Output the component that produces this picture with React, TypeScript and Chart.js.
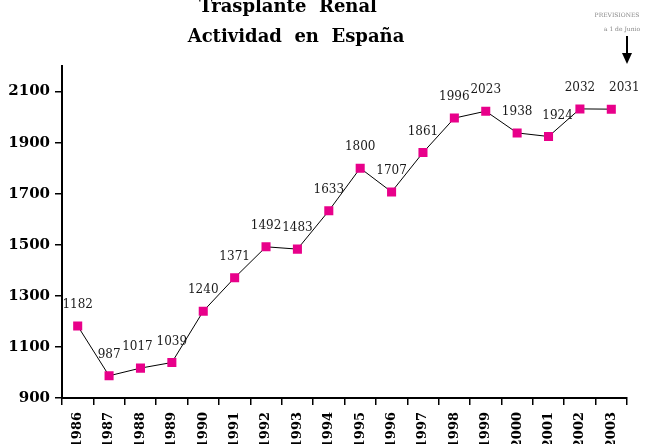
import React, { useEffect, useRef } from "react";
import { Chart, registerables } from "chart.js";

Chart.register(...registerables);

const years = ["1986","1987","1988","1989","1990","1991","1992","1993","1994","1995","1996","1997","1998","1999","2000","2001","2002","2003"];
const trasplantes = [1182, 987, 1017, 1039, 1240, 1371, 1492, 1483, 1633, 1800, 1707, 1861, 1996, 2023, 1938, 1924, 2032, 2031];
const yTicks = [900, 1100, 1300, 1500, 1700, 1900, 2100];
const titleLines = ["Trasplante  Renal", "Actividad  en  España"];
const noteLines = ["PREVISIONES", "a 1 de Junio"];

const labelNudgeX: Record<number, number> = { 2: -3, 15: 9, 17: 13 };

const overlay = {
  id: "overlay",
  afterDraw(chart: any) {
    const ctx = chart.ctx;
    const meta = chart.getDatasetMeta(0);
    ctx.save();
    // data labels
    ctx.font = "12px 'DejaVu Serif'";
    ctx.fillStyle = "#1a1a1a";
    ctx.textAlign = "center";
    ctx.textBaseline = "middle";
    meta.data.forEach((pt: any, i: number) => {
      const dx = labelNudgeX[i] || 0;
      ctx.fillText(String(trasplantes[i]), pt.x + dx, pt.y - 21);
    });
    // title
    ctx.fillStyle = "#000";
    ctx.font = "bold 18px 'DejaVu Serif'";
    ctx.textBaseline = "alphabetic";
    ctx.fillText(titleLines[0], 288, 12);
    ctx.fillText(titleLines[1], 296, 42);
    // note
    ctx.fillStyle = "#888";
    ctx.font = "6px 'DejaVu Serif'";
    ctx.fillText(noteLines[0], 617, 17);
    ctx.fillText(noteLines[1], 622, 31);
    // arrow
    ctx.strokeStyle = "#000";
    ctx.lineWidth = 2;
    ctx.beginPath();
    ctx.moveTo(627, 36);
    ctx.lineTo(627, 56);
    ctx.stroke();
    ctx.fillStyle = "#000";
    ctx.beginPath();
    ctx.moveTo(622, 53);
    ctx.lineTo(632, 53);
    ctx.lineTo(627, 64);
    ctx.closePath();
    ctx.fill();
    ctx.restore();
  },
};

export default function App() {
  const ref = useRef<HTMLCanvasElement>(null);
  useEffect(() => {
    const chart = new Chart(ref.current!, {
      type: "line",
      data: {
        labels: years,
        datasets: [
          {
            data: trasplantes,
            borderColor: "#000",
            borderWidth: 1,
            pointStyle: "rect",
            pointRadius: 6.4,
            pointBackgroundColor: "#e8008a",
            pointBorderColor: "#e8008a",
            pointBorderWidth: 0,
            tension: 0,
          },
        ],
      },
      options: {
        animation: false,
        responsive: false,
        devicePixelRatio: 1,
        layout: { padding: { top: 66, right: 25, left: 0, bottom: 0 } },
        plugins: { legend: { display: false }, tooltip: { enabled: false }, title: { display: false } },
        scales: {
          x: {
            offset: true,
            grid: { offset: true, drawOnChartArea: false, color: "#000", lineWidth: 1.5, tickLength: 7 },
            border: { color: "#000", width: 2 },
            ticks: {
              minRotation: 90,
              maxRotation: 90,
              padding: 7,
              color: "#000",
              font: { family: "'DejaVu Serif'", weight: "bold", size: 13 },
            },
            afterFit(s: any) { s.height = 46; },
          },
          y: {
            min: 900,
            max: 2200,
            grid: { drawOnChartArea: false, color: "#000", lineWidth: 1.5, tickLength: 7 },
            border: { color: "#000", width: 2 },
            ticks: {
              padding: 5,
              color: "#000",
              font: { family: "'DejaVu Serif'", weight: "bold", size: 15 },
              callback: (v: any) => String(v),
            },
            afterBuildTicks(s: any) { s.ticks = yTicks.map((v) => ({ value: v })); },
            afterFit(s: any) { s.width = 62; },
          },
        },
      },
      plugins: [overlay],
    });
    return () => chart.destroy();
  }, []);
  return (
    <canvas
      ref={ref}
      width={652}
      height={444}
      style={{ position: "fixed", left: 0, top: 0, width: 652, height: 444, background: "#fff" }}
    />
  );
}
